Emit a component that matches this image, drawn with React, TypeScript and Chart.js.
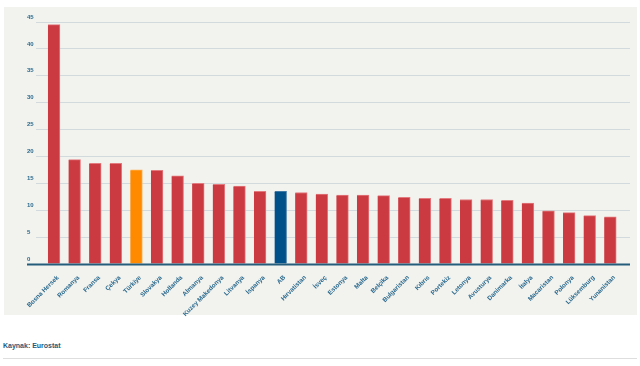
import React, { useEffect, useRef } from "react";
import { Chart, registerables } from "chart.js";

Chart.register(...registerables);

const categories = [
  "Bosna Hersek", "Romanya", "Fransa", "Çekya", "Türkiye", "Slovakya", "Hollanda",
  "Almanya", "Kuzey Makedonya", "Litvanya", "İspanya", "AB", "Hırvatistan", "İsveç",
  "Estonya", "Malta", "Belçika", "Bulgaristan", "Kıbrıs", "Portekiz", "Letonya",
  "Avusturya", "Danimarka", "İtalya", "Macaristan", "Polonya", "Lüksemburg", "Yunanistan",
];
const values = [
  44.5, 19.4, 18.7, 18.7, 17.5, 17.4, 16.4, 15.0, 14.8, 14.5, 13.5, 13.5, 13.3, 13.0,
  12.8, 12.8, 12.7, 12.4, 12.2, 12.2, 12.0, 12.0, 11.85, 11.35, 9.9, 9.55, 9.0, 8.75,
];
const yTicks = [0, 5, 10, 15, 20, 25, 30, 35, 40, 45];
const highlightTR = "Türkiye";
const highlightEU = "AB";
const sourceText = "Kaynak: Eurostat";

const RED = "#cb3a41";
const ORANGE = "#ff8a00";
const BLUE = "#00508a";
const AXIS = "#245c7c";
const TEXT = "#2a6a8e";
const FONT = "'Liberation Sans', Arial, sans-serif";

export default function App() {
  const ref = useRef<HTMLCanvasElement | null>(null);

  useEffect(() => {
    if (!ref.current) return;
    const colors = categories.map((c) =>
      c === highlightTR ? ORANGE : c === highlightEU ? BLUE : RED
    );
    const borders = categories.map((c) =>
      c === highlightTR ? "#ffb04d" : c === highlightEU ? "#3f7aa6" : "#e27a7e"
    );

    const axisLine = {
      id: "axisLine",
      afterDatasetsDraw(chart: any) {
        const { ctx, chartArea, scales } = chart;
        const y = scales.y.getPixelForValue(0);
        ctx.save();
        ctx.strokeStyle = AXIS;
        ctx.lineWidth = 2;
        ctx.beginPath();
        ctx.moveTo(chartArea.left - 9, y + 0.5);
        ctx.lineTo(chartArea.right, y + 0.5);
        ctx.stroke();
        ctx.restore();
      },
    };

    const chart = new Chart(ref.current, {
      type: "bar",
      data: {
        datasets: [
          {
            data: values.map((v, i) => ({ x: i, y: v })),
            backgroundColor: colors,
            borderColor: borders,
            borderWidth: { top: 1, right: 1, left: 0, bottom: 0 },
            barThickness: 12,
          },
        ],
      },
      options: {
        animation: false,
        responsive: false,
        maintainAspectRatio: false,
        layout: { padding: { left: 27, right: 10, top: 22, bottom: 0 } },
        plugins: { legend: { display: false }, tooltip: { enabled: false } },
        scales: {
          x: {
            type: "linear",
            offset: false,
            min: -0.87,
            max: 27.96,
            grid: { display: false },
            border: { display: false },
            afterBuildTicks: (scale: any) => {
              scale.ticks = categories.map((_, i) => ({ value: i }));
            },
            afterFit: (scale: any) => {
              scale.height = 56;
              scale.paddingLeft = 0;
              scale.paddingRight = 0;
            },
            ticks: {
              autoSkip: false,
              maxRotation: 45,
              minRotation: 45,
              padding: 2,
              labelOffset: 4,
              color: TEXT,
              font: { family: FONT, size: 6.3, weight: "bold" },
              callback: (v: any) => categories[v as number] ?? "",
            },
          },
          y: {
            min: 0,
            max: 45,
            afterBuildTicks: (scale: any) => {
              scale.ticks = yTicks.map((v) => ({ value: v }));
            },
            afterFit: (scale: any) => {
              scale.width = 9;
            },
            border: { display: false },
            grid: { color: "#d2dadd", lineWidth: 1, drawTicks: false },
            ticks: {
              crossAlign: "far",
              padding: 0,
              labelOffset: -5,
              color: TEXT,
              font: { family: FONT, size: 6, weight: "bold" },
            },
          },
        },
      },
      plugins: [axisLine],
    } as any);
    return () => chart.destroy();
  }, []);

  return (
    <div style={{ position: "fixed", left: 0, top: 0, width: 640, height: 366, background: "#ffffff", overflow: "hidden" }}>
      <div style={{ position: "absolute", left: 4, top: 7, width: 633, height: 308, background: "#f2f2ee" }} />
      <canvas ref={ref} width={640} height={320} style={{ position: "absolute", left: 0, top: 0, width: 640, height: 320 }} />
      <div style={{ position: "absolute", left: 3, top: 341, fontFamily: FONT, fontSize: 7, fontWeight: "bold", color: "#1f5a7c", lineHeight: "9px" }}>
        {sourceText}
      </div>
      <div style={{ position: "absolute", left: 3, top: 358, width: 634, height: 1, background: "#dedede" }} />
    </div>
  );
}
